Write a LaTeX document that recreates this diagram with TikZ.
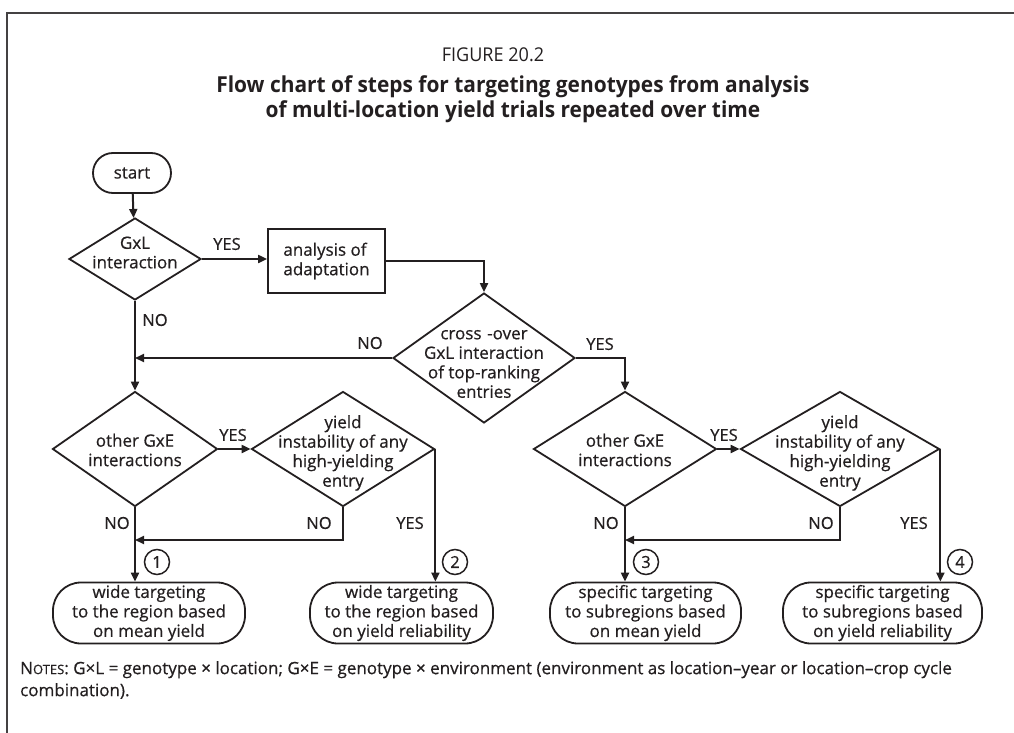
\documentclass[tikz,border=0pt]{standalone}
\usepackage{fontspec}
\setmainfont{Open Sans}[FakeBold=0.6]
\newfontfamily\titlefont[FakeStretch=0.95]{Open Sans}
\usetikzlibrary{shapes.geometric,arrows.meta}
\definecolor{ink}{HTML}{231F20}
\begin{document}
\begin{tikzpicture}[x=1pt,y=-1pt,
  every node/.style={text=ink},
  txt/.style={font=\fontsize{17}{19.5}\selectfont, align=center},
  dia/.style={draw=ink, diamond, inner sep=0pt, line width=1.8pt},
  term/.style={draw=ink, rectangle, rounded corners=#1, line width=1.8pt, inner sep=0pt, txt},
  box/.style={draw=ink, rectangle, line width=1.8pt, inner sep=0pt, txt},
  lab/.style={font=\fontsize{16.5}{19}\selectfont, inner sep=0pt},
  num/.style={draw=ink, circle, line width=1.5pt, minimum size=25pt, inner sep=0pt, font=\fontsize{16.5}{19}\selectfont},
  conn/.style={draw=ink, line width=2pt},
  arr/.style={conn, -{Triangle[length=9pt,width=8pt]}}]
\useasboundingbox (0,0) rectangle (1014,733);
% frame
\coordinate (fr1) at (1014,13);
\coordinate (fr2) at (7,13);
\coordinate (fr3) at (7,733);
\draw[ink!85, line width=1.3pt] (fr1) -- (fr2) -- (fr3);
% title
\node[font=\titlefont\fontsize{19}{22}\selectfont] (fig) at (493,55) {FIGURE 20.2};
\node[font=\titlefont\bfseries\fontsize{22}{25}\selectfont, align=center] (ttl) at (513,99)
  {Flow chart of steps for targeting genotypes from analysis\\of multi-location yield trials repeated over time};
% nodes
\node[term=20pt, minimum width=78pt, minimum height=40pt] (start) at (132,173) {start};
\node[dia, minimum width=132pt, minimum height=82pt,
      label={[txt, yshift=6.5pt]center:GxL\\interaction}] (gxl) at (135,259) {};
\node[box, minimum width=117pt, minimum height=64pt, align=left] (ana) at (326.5,261) {analysis of\\adaptation};
\node[dia, minimum width=182pt, minimum height=130pt,
      label={[txt, yshift=-6pt]center:cross\,\,-over\\GxL interaction\\of top-ranking\\entries}] (cross) at (484,358) {};
\node[dia, minimum width=165pt, minimum height=115pt,
      label={[txt, yshift=-1pt]center:other GxE\\interactions}] (gxeL) at (135,449) {};
\node[dia, minimum width=183pt, minimum height=115pt,
      label={[txt, yshift=-4pt]center:yield\\instability of any\\high-yielding\\entry}] (yldL) at (343,449) {};
\node[dia, minimum width=183pt, minimum height=115pt,
      label={[txt, yshift=-1pt]center:other GxE\\interactions}] (gxeR) at (625,449) {};
\node[dia, minimum width=199pt, minimum height=115pt,
      label={[txt, yshift=-4pt]center:yield\\instability of any\\high-yielding\\entry}] (yldR) at (840,449) {};
\node[term=28pt, minimum width=192pt, minimum height=61pt] (t1) at (149,613) {wide targeting\\to the region based\\on mean yield};
\node[term=28pt, minimum width=183pt, minimum height=61pt] (t2) at (401.5,613) {wide targeting\\to the region based\\on yield reliability};
\node[term=28pt, minimum width=191pt, minimum height=61pt] (t3) at (645.5,613) {specific targeting\\to subregions based\\on mean yield};
\node[term=28pt, minimum width=199pt, minimum height=61pt] (t4) at (882.5,613) {specific targeting\\to subregions based\\on yield reliability};
% junction coordinates
\coordinate (jN) at (135,358);
\coordinate (jL) at (135,540);
\coordinate (jR) at (625,540);
% connectors
\draw[arr] (start) -- (gxl);
\draw[arr] (gxl.east) -- (ana.west |- gxl.east);
\draw[arr] (ana.east) -| (cross.north);
\draw[arr] (gxl.south) -- (gxeL.north);
\draw[arr] (cross.west) -- (jN);
\draw[arr] (cross.east) -| (gxeR.north);
\draw[arr] (gxeL.east) -- (yldL.west);
\draw[arr] (gxeL.south) -- (gxeL.south |- t1.north);
\draw[arr] (yldL.south) |- (jL);
\draw[arr] (yldL.east) -- (yldL.east |- t2.north);
\draw[arr] (gxeR.east) -- (yldR.west);
\draw[arr] (gxeR.south) -- (gxeR.south |- t3.north);
\draw[arr] (yldR.south) |- (jR);
\draw[arr] (yldR.east) -- (yldR.east |- t4.north);
% labels
\node[lab] (y1) at (227,244) {YES};
\node[lab] (n1) at (155,320) {NO};
\node[lab] (n2) at (370,343) {NO};
\node[lab] (y2) at (600,344) {YES};
\node[lab] (y3) at (233,435) {YES};
\node[lab] (n3) at (117,523) {NO};
\node[lab] (n4) at (319,523) {NO};
\node[lab] (y4) at (410,523) {YES};
\node[lab] (y5) at (724,435) {YES};
\node[lab] (n5) at (606,523) {NO};
\node[lab] (n6) at (821,523) {NO};
\node[lab] (y6) at (914,523) {YES};
\node[num] (c1) at (157,562) {1};
\node[num] (c2) at (455,562) {2};
\node[num] (c3) at (646,562) {3};
\node[num] (c4) at (960,562) {4};
% notes
\node[font=\fontsize{17}{22}\selectfont, align=left, anchor=north west, inner sep=0pt] (notes) at (20,661)
  {N{\fontsize{13}{14}\selectfont OTES}: G\texttimes L = genotype \texttimes{} location; G\texttimes E = genotype \texttimes{} environment (environment as location--year or location--crop cycle\\combination).};
\end{tikzpicture}
\end{document}
